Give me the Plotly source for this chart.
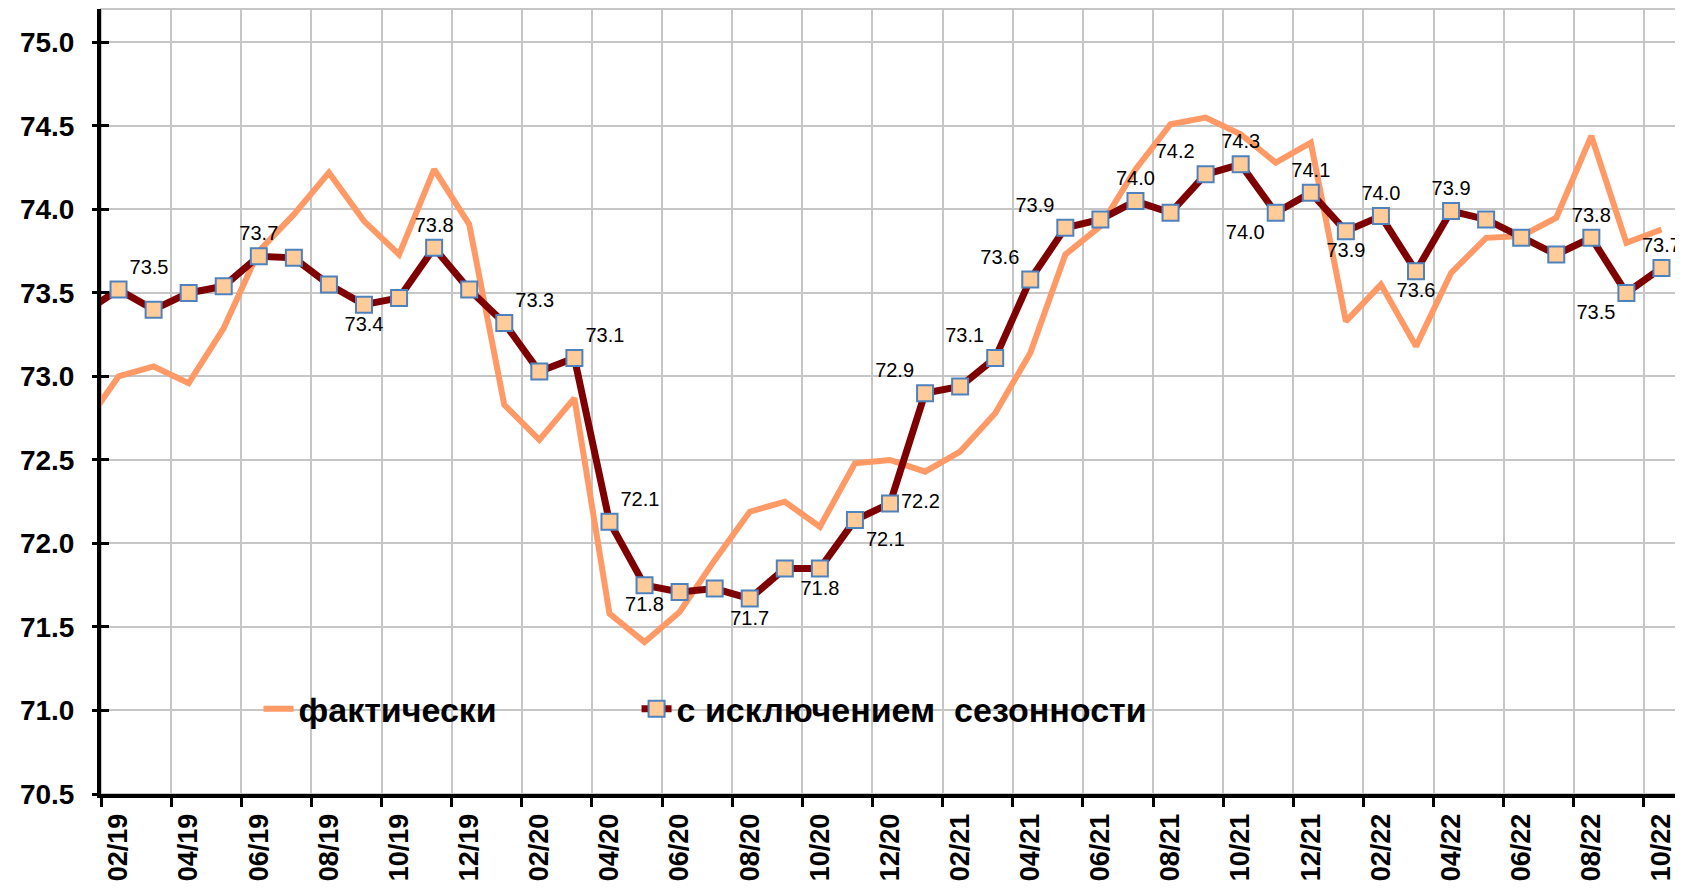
import plotly.graph_objects as go

# ---------------- data ----------------
months = ["01/19", "02/19", "03/19", "04/19", "05/19", "06/19", "07/19", "08/19", "09/19", "10/19",
          "11/19", "12/19", "01/20", "02/20", "03/20", "04/20", "05/20", "06/20", "07/20", "08/20",
          "09/20", "10/20", "11/20", "12/20", "01/21", "02/21", "03/21", "04/21", "05/21", "06/21",
          "07/21", "08/21", "09/21", "10/21", "11/21", "12/21", "01/22", "02/22", "03/22", "04/22",
          "05/22", "06/22", "07/22", "08/22", "09/22", "10/22"]

actual = [72.70, 73.00, 73.06, 72.96, 73.29, 73.75, 73.97, 74.22, 73.93, 73.73,
          74.24, 73.91, 72.83, 72.62, 72.87, 71.58, 71.41, 71.59, 71.90, 72.19,
          72.25, 72.10, 72.48, 72.50, 72.43, 72.55, 72.78, 73.14, 73.73, 73.90,
          74.24, 74.51, 74.55, 74.45, 74.28, 74.40, 73.33, 73.55, 73.18, 73.62,
          73.83, 73.84, 73.95, 74.44, 73.80, 73.88]

seas_adj = [73.38, 73.52, 73.40, 73.50, 73.54, 73.72, 73.71, 73.55, 73.43, 73.47,
            73.77, 73.52, 73.32, 73.03, 73.11, 72.13, 71.75, 71.71, 71.73, 71.67,
            71.85, 71.85, 72.14, 72.24, 72.90, 72.94, 73.11, 73.58, 73.89, 73.94,
            74.05, 73.98, 74.21, 74.27, 73.98, 74.10, 73.87, 73.96, 73.63, 73.99,
            73.94, 73.83, 73.73, 73.83, 73.50, 73.65]

seas_labels = ["", "73.5", "", "", "", "73.7", "", "", "73.4", "",
               "73.8", "", "73.3", "", "73.1", "72.1", "71.8", "", "", "71.7",
               "", "71.8", "72.1", "72.2", "72.9", "", "73.1", "73.6", "73.9", "",
               "74.0", "", "74.2", "74.3", "74.0", "74.1", "73.9", "74.0", "73.6", "73.9",
               "", "", "", "73.8", "73.5", "73.7"]

y_ticks = [70.5, 71.0, 71.5, 72.0, 72.5, 73.0, 73.5, 74.0, 74.5, 75.0]

series_names = ["фактически", "с исключением  сезонности"]

# ---------------- styling ----------------
label_pos = ["top center", "top right", "top center", "top center", "top center", "top center",
             "top center", "top center", "bottom center", "top center",
             "top center", "top center", "top right", "top center", "top right", "top right",
             "bottom center", "top center", "top center", "bottom center",
             "top center", "bottom center", "bottom right", "middle right", "top left",
             "top center", "top left", "top left", "top left", "top center",
             "top center", "top center", "top left", "top center", "bottom left", "top center",
             "bottom center", "top center", "bottom center", "top center",
             "top center", "top center", "top center", "top center", "bottom left", "top center"]

FONT = "Arial, Liberation Sans, sans-serif"
x_idx = list(range(len(months)))
x_range = [0.5, len(months) - 0.5]
y_range = [70.5, 75.2]

fig = go.Figure()

fig.add_trace(go.Scatter(
    x=x_idx, y=actual, mode="lines", name=series_names[0],
    line=dict(color="#FF9966", width=6), hoverinfo="skip", legend="legend"))

fig.add_trace(go.Scatter(
    x=x_idx, y=seas_adj, mode="lines+markers+text", name=series_names[1],
    line=dict(color="#7F0000", width=7),
    marker=dict(symbol="square", size=16, color="#FFCC99",
                line=dict(color="#4F81BD", width=2)),
    text=seas_labels, textposition=label_pos,
    textfont=dict(family=FONT, size=20, color="black"),
    hoverinfo="skip", legend="legend2"))

# empty traces to instantiate the overlay axes
fig.add_trace(go.Scatter(x=[], y=[], xaxis="x2", yaxis="y2", showlegend=False, hoverinfo="skip"))
fig.add_trace(go.Scatter(x=[], y=[], xaxis="x", yaxis="y3", showlegend=False, hoverinfo="skip"))

boundaries = [i + 0.5 for i in range(0, len(months) - 1, 2)]
label_idx = [i for i in range(1, len(months), 2)]

legend_font = dict(family=FONT, size=34, weight="bold", color="black")

fig.update_layout(
    width=1675, height=882,
    margin=dict(l=93, r=4, t=1, b=96),
    paper_bgcolor="white", plot_bgcolor="white",
    font=dict(family=FONT, color="black"),
    showlegend=True,
    legend=dict(orientation="h", x=0.0998, y=0.108, xanchor="left", yanchor="middle",
                bgcolor="rgba(0,0,0,0)", font=legend_font, itemsizing="trace"),
    legend2=dict(orientation="h", x=0.3394, y=0.108, xanchor="left", yanchor="middle",
                 bgcolor="rgba(0,0,0,0)", font=legend_font, itemsizing="trace"),
    xaxis=dict(range=x_range, tickmode="array", tickvals=boundaries, showticklabels=False,
               ticks="outside", ticklen=9, tickwidth=3, tickcolor="black",
               showgrid=True, gridcolor="#C6C6C6", gridwidth=1.5,
               showline=True, linecolor="black", linewidth=4, zeroline=False),
    xaxis2=dict(range=x_range, overlaying="x", anchor="y", side="bottom",
                tickmode="array", tickvals=label_idx, ticktext=[months[i] for i in label_idx],
                tickangle=-90, ticks="outside", ticklen=8, tickcolor="rgba(0,0,0,0)",
                showgrid=False, showline=False, zeroline=False,
                tickfont=dict(family=FONT, size=27, weight="bold", color="black")),
    yaxis=dict(range=y_range, tickmode="array", tickvals=y_ticks, tickformat=".1f",
               ticks="", ticklabelstandoff=17,
               showgrid=True, gridcolor="#C6C6C6", gridwidth=1.5,
               showline=True, linecolor="black", linewidth=4, zeroline=False,
               tickfont=dict(family=FONT, size=28, weight="bold", color="black")),
    yaxis2=dict(range=y_range, overlaying="y", anchor="x", side="left",
                tickmode="array", tickvals=y_ticks, showticklabels=False,
                ticks="inside", ticklen=8, tickwidth=3, tickcolor="black",
                showgrid=False, showline=False, zeroline=False),
    yaxis3=dict(range=y_range, overlaying="y", anchor="x", side="left",
                tickmode="array", tickvals=y_ticks, showticklabels=False,
                ticks="outside", ticklen=8, tickwidth=3, tickcolor="black",
                showgrid=False, showline=False, zeroline=False),
    shapes=[
        dict(type="rect", xref="paper", yref="paper", x0=0, x1=1, y0=0, y1=1,
             line=dict(color="#C6C6C6", width=2), fillcolor="rgba(0,0,0,0)", layer="below"),
        dict(type="rect", xref="paper", yref="paper", x0=0.014, x1=0.732, y0=0.0586, y1=0.1618,
             line=dict(width=0), fillcolor="white", layer="between"),
    ],
)

fig.write_html("out.html")
